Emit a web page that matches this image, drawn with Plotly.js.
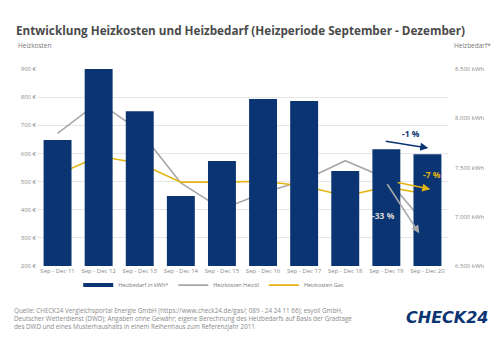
<!DOCTYPE html>
<html><head><meta charset="utf-8">
<script src="https://cdn.plot.ly/plotly-3.0.1.min.js"></script>
<style>html,body{margin:0;padding:0;background:#fff}#c{width:500px;height:353px}</style>
</head><body><div id="c"></div>
<script>
const categories = ["Sep - Dec 11","Sep - Dec 12","Sep - Dec 13","Sep - Dec 14","Sep - Dec 15","Sep - Dec 16","Sep - Dec 17","Sep - Dec 18","Sep - Dec 19","Sep - Dec 20"];
const heizbedarfKWh = [7780, 8500, 8070, 7210, 7565, 8195, 8175, 7465, 7685, 7635];
const kostenHeizoel = [671, 782, 680, 495, 402, 459, 505, 574, 512, 340];
const kostenGas = [525, 590, 565, 498, 498, 501, 484, 449, 481, 455];
const leftTickVals = [200,300,400,500,600,700,800,900];
const leftTickText = ["200 €","300 €","400 €","500 €","600 €","700 €","800 €","900 €"];
const rightTickVals = [6500,7000,7500,8000,8500];
const rightTickText = ["6.500 kWh","7.000 kWh","7.500 kWh","8.000 kWh","8.500 kWh"];
const seriesNames = ["Heizbedarf in kWh*","Heizkosten Heizöl","Heizkosten Gas"];

const navy = "#0b3472", grey = "#a8a8a8", gold = "#e3b510", tickCol = "#8a8a8a";
const F = "Open Sans, sans-serif";

const traces = [
  {type:"bar", x:categories, y:heizbedarfKWh, yaxis:"y2", name:seriesNames[0], marker:{color:navy}, showlegend:false},
  // legend swatch for the bars (no data drawn)
  {type:"scatter", mode:"lines", x:[null], y:[null], name:seriesNames[0], line:{color:navy, width:4}, hoverinfo:"skip"},
  {type:"scatter", mode:"lines", x:categories, y:kostenHeizoel, name:seriesNames[1], line:{color:grey, width:1.6}},
  {type:"scatter", mode:"lines", x:categories, y:kostenGas, name:seriesNames[2], line:{color:gold, width:1.6}}
];

const layout = {
  width:500, height:353, paper_bgcolor:"#fff", plot_bgcolor:"#fff",
  margin:{l:37, r:52, t:69, b:87},
  font:{family:F, color:tickCol, size:6},
  showlegend:true,
  legend:{orientation:"h", x:0.43, xanchor:"center", y:-0.097, yanchor:"middle", bgcolor:"rgba(0,0,0,0)", font:{size:5.5, color:"#777"}, itemwidth:30, tracegroupgap:0},
  bargap:0.32,
  title:{text:"<b>Entwicklung Heizkosten und Heizbedarf (Heizperiode September - Dezember)</b>", x:0.032, xanchor:"left", y:0.913, yanchor:"middle", font:{family:F, size:11.7, color:"#4a4a4a"}},
  xaxis:{type:"category", tickfont:{size:6, color:tickCol}, showgrid:false, showline:false, ticks:"", tickangle:0, automargin:false},
  yaxis:{range:[200,900], tickvals:leftTickVals, ticktext:leftTickText, showgrid:true, gridcolor:"#e6e6e6", gridwidth:1, zeroline:false, tickfont:{size:6, color:tickCol}, ticks:"", automargin:false},
  yaxis2:{range:[6500,8500], overlaying:"y", side:"right", tickvals:rightTickVals, ticktext:rightTickText, showgrid:false, zeroline:false, tickfont:{size:6, color:tickCol}, ticks:"", ticklabelstandoff:6, automargin:false},
  annotations:[
    {xref:"paper", yref:"paper", x:-0.05, y:1.117, xanchor:"left", yanchor:"middle", text:"Heizkosten", showarrow:false, font:{size:6.5, color:"#777"}},
    {xref:"paper", yref:"paper", x:1.01, y:1.117, xanchor:"left", yanchor:"middle", text:"Heizbedarf*", showarrow:false, font:{size:6.5, color:"#777"}},
    // trend arrows
    {x:9.02, y:619, ax:7.95, ay:644, xref:"x", yref:"y", axref:"x", ayref:"y", showarrow:true, arrowhead:2, arrowsize:1, arrowwidth:1.6, arrowcolor:navy, text:""},
    {x:9.07, y:473, ax:8.24, ay:498, xref:"x", yref:"y", axref:"x", ayref:"y", showarrow:true, arrowhead:2, arrowsize:1, arrowwidth:1.6, arrowcolor:gold, text:""},
    {x:8.8, y:316, ax:8.0, ay:496, xref:"x", yref:"y", axref:"x", ayref:"y", showarrow:true, arrowhead:2, arrowsize:1, arrowwidth:1.6, arrowcolor:grey, text:""},
    {x:8.59, y:672, xref:"x", yref:"y", text:"<b>-1 %</b>", showarrow:false, font:{size:8.5, color:navy}},
    {x:9.1, y:526, xref:"x", yref:"y", text:"<b>-7 %</b>", showarrow:false, font:{size:8.5, color:gold}},
    {x:7.93, y:380, xref:"x", yref:"y", text:"<b>-33 %</b>", showarrow:false, font:{size:8.5, color:"#d8d8d8"}},
    // footer
    {xref:"paper", yref:"paper", x:-0.061, y:-0.195, xanchor:"left", yanchor:"top", align:"left", showarrow:false,
     text:"Quelle: CHECK24 Vergleichsportal Energie GmbH (https://www.check24.de/gas/; 089 - 24 24 11 66); esyoil GmbH,<br>Deutscher Wetterdienst (DWD); Angaben ohne Gewähr; eigene Berechnung des Heizbedarfs auf Basis der Gradtage<br>des DWD und eines Musterhaushalts in einem Reihenhaus zum Referenzjahr 2011",
     font:{size:6.3, color:"#8a8a8a"}},
    {xref:"paper", yref:"paper", x:0.998, y:-0.262, xanchor:"center", yanchor:"middle", showarrow:false,
     text:"<b><i>CHECK24</i></b>", font:{family:"DejaVu Sans, sans-serif", size:16, color:"#0b3472"}}
  ]
};
Plotly.newPlot("c", traces, layout, {staticPlot:true, displayModeBar:false});
</script></body></html>
